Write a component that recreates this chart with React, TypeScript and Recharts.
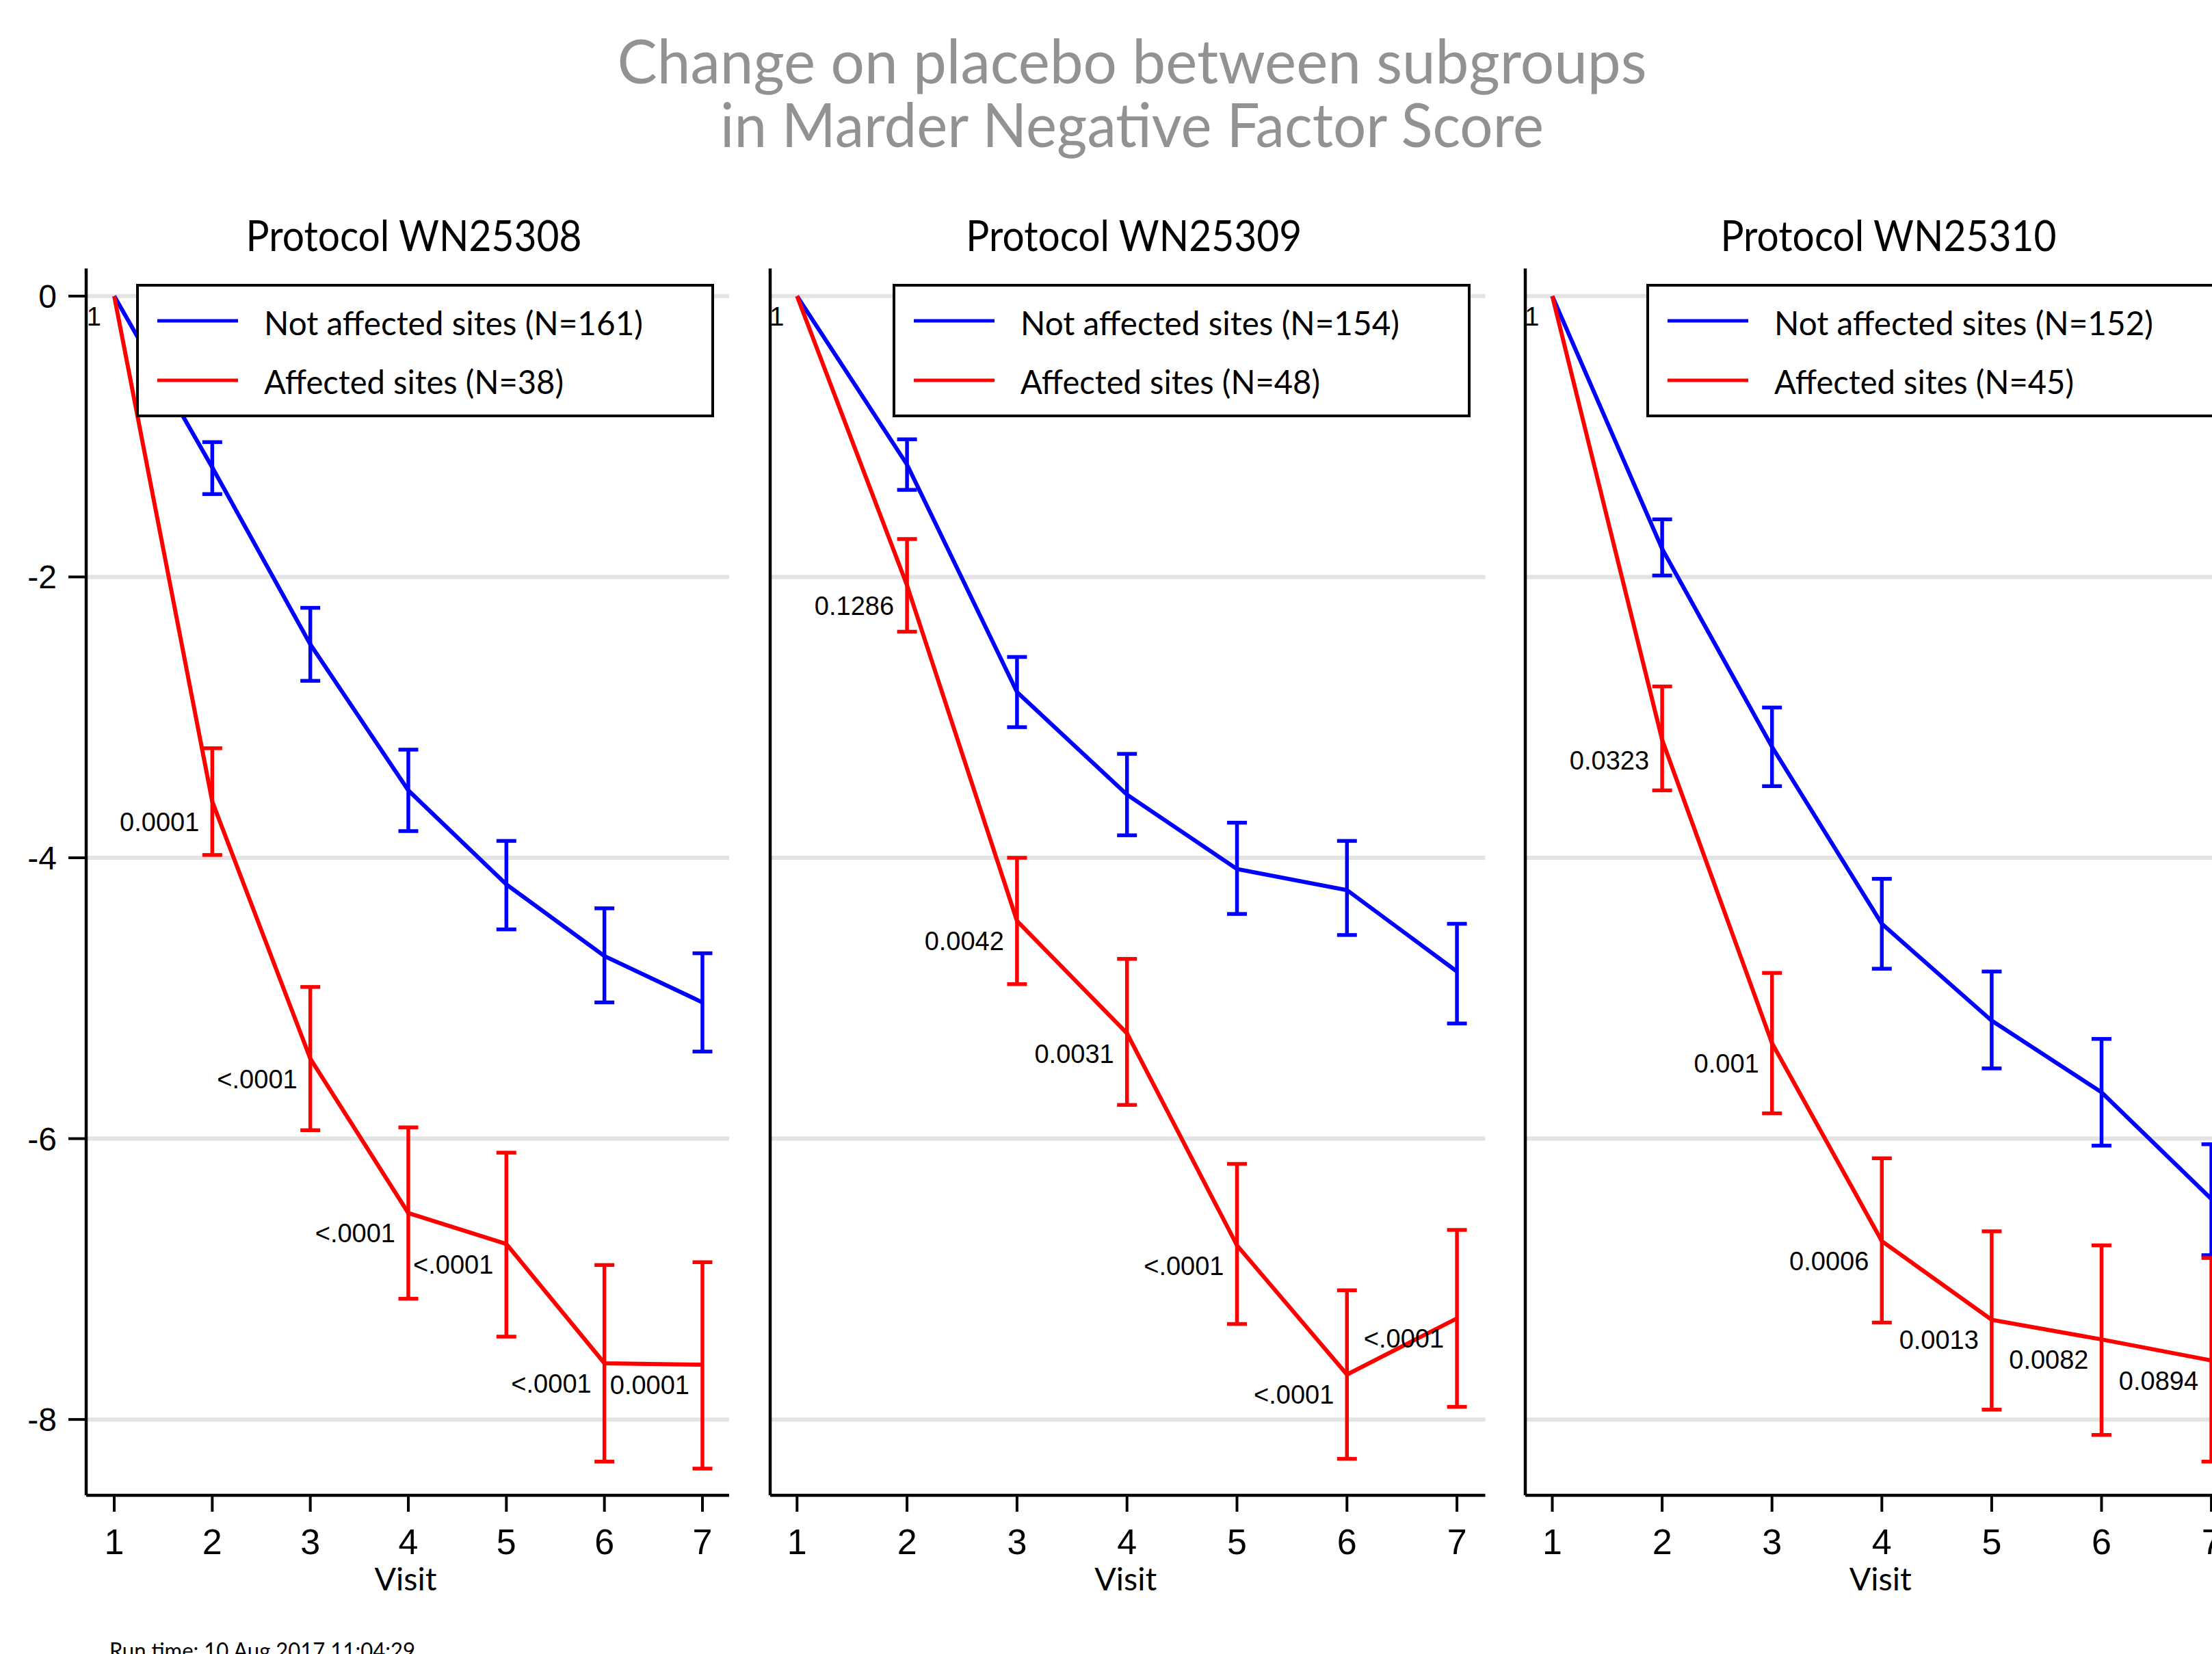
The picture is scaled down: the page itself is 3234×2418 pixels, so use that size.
import { LineChart, Line, XAxis, YAxis, ReferenceLine, ErrorBar, LabelList, Legend } from 'recharts';

// visits on the x axis
const visits = [1, 2, 3, 4, 5, 6, 7];
const yTicks = [0, -2, -4, -6, -8];

const protocols = ['WN25308', 'WN25309', 'WN25310'];
const notAffectedN = [161, 154, 152];
const affectedN = [38, 48, 45];

// Protocol WN25308
const blue308 = [0, -1.22, -2.48, -3.52, -4.19, -4.70, -5.03];
const blue308Lo = [null, -1.41, -2.74, -3.81, -4.51, -5.03, -5.38];
const blue308Hi = [null, -1.04, -2.22, -3.23, -3.88, -4.36, -4.68];
const red308 = [0, -3.60, -5.43, -6.53, -6.75, -7.60, -7.61];
const red308Lo = [null, -3.98, -5.94, -7.14, -7.41, -8.30, -8.35];
const red308Hi = [null, -3.22, -4.92, -5.92, -6.10, -6.90, -6.88];
const p308 = ['1', '0.0001', '<.0001', '<.0001', '<.0001', '<.0001', '0.0001'];

// Protocol WN25309
const blue309 = [0, -1.20, -2.82, -3.55, -4.08, -4.23, -4.81];
const blue309Lo = [null, -1.38, -3.07, -3.84, -4.40, -4.55, -5.18];
const blue309Hi = [null, -1.02, -2.57, -3.26, -3.75, -3.88, -4.47];
const red309 = [0, -2.06, -4.45, -5.25, -6.76, -7.68, -7.28];
const red309Lo = [null, -2.39, -4.90, -5.76, -7.32, -8.28, -7.91];
const red309Hi = [null, -1.73, -4.00, -4.72, -6.18, -7.08, -6.65];
const p309 = ['1', '0.1286', '0.0042', '0.0031', '<.0001', '<.0001', '<.0001'];

// Protocol WN25310
const blue310 = [0, -1.80, -3.21, -4.47, -5.16, -5.67, -6.43];
const blue310Lo = [null, -1.99, -3.49, -4.79, -5.50, -6.05, -6.83];
const blue310Hi = [null, -1.59, -2.93, -4.15, -4.81, -5.29, -6.04];
const red310 = [0, -3.16, -5.32, -6.73, -7.29, -7.43, -7.58];
const red310Lo = [null, -3.52, -5.82, -7.31, -7.93, -8.11, -8.30];
const red310Hi = [null, -2.78, -4.82, -6.14, -6.66, -6.76, -6.85];
const p310 = ['1', '0.0323', '0.001', '0.0006', '0.0013', '0.0082', '0.0894'];

const BLUE = '#0000ff';
const RED = '#ff0000';
const SANS = 'Lato, "Noto Sans", sans-serif';
const ARIAL = '"Liberation Sans", Arial, sans-serif';

function errOf(mean: number[], lo: (number | null)[], hi: (number | null)[], i: number) {
  if (lo[i] == null || hi[i] == null) return null;
  return [mean[i] - (lo[i] as number), (hi[i] as number) - mean[i]];
}

function buildRows(blue: number[], bLo: (number | null)[], bHi: (number | null)[], red: number[], rLo: (number | null)[], rHi: (number | null)[], p: string[]) {
  return visits.map((v, i) => ({
    visit: v,
    blue: blue[i],
    blueErr: errOf(blue, bLo, bHi, i),
    red: red[i],
    redErr: errOf(red, rLo, rHi, i),
    p: p[i],
  }));
}

const tables = [
  buildRows(blue308, blue308Lo, blue308Hi, red308, red308Lo, red308Hi, p308),
  buildRows(blue309, blue309Lo, blue309Hi, red309, red309Lo, red309Hi, p309),
  buildRows(blue310, blue310Lo, blue310Hi, red310, red310Lo, red310Hi, p310),
];

// panel geometry (page pixels)
const panels = [
  { left: 0, plotW: 940, padL: 41, padR: 39, showY: true },
  { left: 1000, plotW: 1045.5, padL: 39.3, padR: 41.4, showY: false },
  { left: 2103.7, plotW: 1044.5, padL: 39.5, padR: 41.4, showY: false },
];
const Y_AXIS_W = 126;
const TOP = 392.6;
const X_AXIS_H = 232;
const H = 2418;

function PLabel(props: any) {
  const { x, y, value } = props;
  return (
    <text x={x - 19} y={y + 43} textAnchor="end" fontFamily={ARIAL} fontSize={38} fill="#000">
      {value}
    </text>
  );
}

function LegendBox(props: any) {
  const order = ['blue', 'red'];
  const items = [...(props.payload || [])].sort(
    (a: any, b: any) => order.indexOf(a.dataKey) - order.indexOf(b.dataKey)
  );
  const widths = [554, 438];
  return (
    <div style={{ width: 845, height: 195, boxSizing: 'border-box', border: '4px solid #000', background: '#fff' }}>
      <svg width={837} height={187} style={{ display: 'block' }}>
        {items.map((it: any, i: number) => (
          <g key={i}>
            <line x1={27} x2={145} y1={50 + i * 87} y2={50 + i * 87} stroke={it.color} strokeWidth={5} />
            <text x={183} y={71 + i * 86} fontFamily={SANS} fontSize={48} fill="#000" textLength={widths[i]} lengthAdjust="spacingAndGlyphs">
              {it.value}
            </text>
          </g>
        ))}
      </svg>
    </div>
  );
}

function Panel({ idx }: { idx: number }) {
  const pl = panels[idx];
  const width = Y_AXIS_W + pl.plotW + 10;
  const legendLeft = Y_AXIS_W + pl.plotW - 22 - 845;
  return (
    <div style={{ position: 'absolute', left: pl.left, top: 0 }}>
      <LineChart width={width} height={H} data={tables[idx]} margin={{ top: TOP, right: 10, bottom: 0, left: 0 }}>
        {yTicks.map(t => (
          <ReferenceLine key={t} y={t} stroke="#e3e3e3" strokeWidth={6} />
        ))}
        <XAxis
          dataKey="visit"
          type="number"
          domain={[1, 7]}
          ticks={visits}
          padding={{ left: pl.padL, right: pl.padR }}
          height={X_AXIS_H}
          axisLine={{ stroke: '#000', strokeWidth: 4.5 }}
          tickLine={{ stroke: '#000', strokeWidth: 4 }}
          tickSize={24}
          tickMargin={25}
          tick={{ fontFamily: ARIAL, fontSize: 52, fill: '#000' }}
          label={{
            value: 'Visit',
            content: (p: any) => (
              <text x={p.viewBox.x + p.viewBox.width / 2 - 3} y={p.viewBox.y + 139} textAnchor="middle" fontFamily={SANS} fontSize={47} fill="#000" textLength={91} lengthAdjust="spacingAndGlyphs">
                Visit
              </text>
            ),
          }}
        />
        <YAxis
          type="number"
          domain={[-8.54, 0.196]}
          allowDataOverflow
          ticks={yTicks}
          width={Y_AXIS_W}
          axisLine={{ stroke: '#000', strokeWidth: 4.5 }}
          tickLine={{ stroke: '#000', strokeWidth: 4 }}
          tickSize={26}
          tickMargin={17}
          tick={pl.showY ? { fontFamily: ARIAL, fontSize: 48, fill: '#000' } : false}
        />
        <Line
          dataKey="blue"
          name={`Not affected sites (N=${notAffectedN[idx]})`}
          stroke={BLUE}
          strokeWidth={6}
          dot={false}
          activeDot={false}
          isAnimationActive={false}
        >
          <ErrorBar dataKey="blueErr" direction="y" width={14.5} stroke={BLUE} strokeWidth={5.5} isAnimationActive={false} />
        </Line>
        <Line
          dataKey="red"
          name={`Affected sites (N=${affectedN[idx]})`}
          stroke={RED}
          strokeWidth={6}
          dot={false}
          activeDot={false}
          isAnimationActive={false}
        >
          <ErrorBar dataKey="redErr" direction="y" width={14.5} stroke={RED} strokeWidth={5.5} isAnimationActive={false} />
          <LabelList dataKey="p" content={<PLabel />} />
        </Line>
        <Legend
          layout="vertical"
          align="center"
          verticalAlign="middle"
          content={<LegendBox />}
          wrapperStyle={{ position: 'absolute', top: 414.5, left: legendLeft, width: 845, height: 195 }}
        />
      </LineChart>
    </div>
  );
}

export default function App() {
  const titleCenters = panels.map(pl => pl.left + Y_AXIS_W + pl.plotW / 2 + 9);
  return (
    <div style={{ position: 'fixed', left: 0, top: 0, width: 3234, height: 2418, overflow: 'hidden', background: '#fff' }}>
      <svg width={3234} height={2418} style={{ position: 'absolute', left: 0, top: 0 }}>
        <text x={1655} y={122} textAnchor="middle" fontFamily={SANS} fontSize={89} fill="#929292" textLength={1505} lengthAdjust="spacingAndGlyphs">
          Change on placebo between subgroups
        </text>
        <text x={1655} y={215} textAnchor="middle" fontFamily={SANS} fontSize={89} fill="#929292" textLength={1204} lengthAdjust="spacingAndGlyphs">
          in Marder Negative Factor Score
        </text>
        {protocols.map((p, i) => (
          <text key={p} x={titleCenters[i]} y={367} textAnchor="middle" fontFamily={SANS} fontSize={61} fill="#000" textLength={491} lengthAdjust="spacingAndGlyphs">
            {`Protocol ${p}`}
          </text>
        ))}
        <text x={160} y={2425} fontFamily={SANS} fontSize={32} fill="#000" textLength={447} lengthAdjust="spacingAndGlyphs">
          Run time: 10 Aug 2017 11:04:29
        </text>
      </svg>
      {panels.map((_, i) => (
        <Panel key={i} idx={i} />
      ))}
    </div>
  );
}
